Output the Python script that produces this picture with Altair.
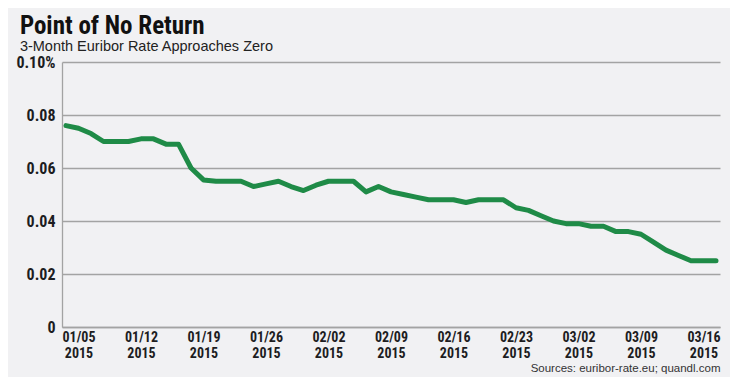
import altair as alt
import pandas as pd

# Business days shown on the chart
dates = [
    "01/02/2015",
    "01/05/2015", "01/06/2015", "01/07/2015", "01/08/2015", "01/09/2015",
    "01/12/2015", "01/13/2015", "01/14/2015", "01/15/2015", "01/16/2015",
    "01/19/2015", "01/20/2015", "01/21/2015", "01/22/2015", "01/23/2015",
    "01/26/2015", "01/27/2015", "01/28/2015", "01/29/2015", "01/30/2015",
    "02/02/2015", "02/03/2015", "02/04/2015", "02/05/2015", "02/06/2015",
    "02/09/2015", "02/10/2015", "02/11/2015", "02/12/2015", "02/13/2015",
    "02/16/2015", "02/17/2015", "02/18/2015", "02/19/2015", "02/20/2015",
    "02/23/2015", "02/24/2015", "02/25/2015", "02/26/2015", "02/27/2015",
    "03/02/2015", "03/03/2015", "03/04/2015", "03/05/2015", "03/06/2015",
    "03/09/2015", "03/10/2015", "03/11/2015", "03/12/2015", "03/13/2015",
    "03/16/2015", "03/17/2015",
]

# 3-month Euribor rate (%)
rates = [
    0.076,
    0.075, 0.073, 0.070, 0.070, 0.070,
    0.071, 0.071, 0.069, 0.069, 0.060,
    0.0555, 0.055, 0.055, 0.055, 0.053,
    0.054, 0.055, 0.053, 0.0515, 0.0535,
    0.055, 0.055, 0.055, 0.051, 0.053,
    0.051, 0.050, 0.049, 0.048, 0.048,
    0.048, 0.047, 0.048, 0.048, 0.048,
    0.045, 0.044, 0.042, 0.040, 0.039,
    0.039, 0.038, 0.038, 0.036, 0.036,
    0.035, 0.032, 0.029, 0.027, 0.025,
    0.025, 0.025,
]

tick_dates = ["01/05/2015", "01/12/2015", "01/19/2015", "01/26/2015",
              "02/02/2015", "02/09/2015", "02/16/2015", "02/23/2015",
              "03/02/2015", "03/09/2015", "03/16/2015"]
y_ticks = [0, 0.02, 0.04, 0.06, 0.08, 0.10]

title_text = "Point of No Return"
subtitle_text = "3-Month Euribor Rate Approaches Zero"
source_text = "Sources: euribor-rate.eu; quandl.com"

df = pd.DataFrame({"date": dates, "rate": rates})

NARROW = "Liberation Sans Narrow, Arial Narrow, Roboto Condensed, Liberation Sans, sans-serif"
REG = "Liberation Sans, Arial, Helvetica, sans-serif"
TXT = "#1d1d1f"
GRID = "#a3a3a3"

chart = alt.Chart(df).mark_line(
    color="#1f8b47", strokeWidth=5, strokeJoin="round", strokeCap="round"
).encode(
    x=alt.X(
        "date:O",
        sort=dates,
        scale=alt.Scale(type="point", padding=0.32),
        axis=alt.Axis(
            values=tick_dates,
            labelExpr="[slice(datum.value, 0, 5), slice(datum.value, 6)]",
            labelAngle=0,
            labelAlign="center",
            labelFont=NARROW,
            labelFontSize=14,
            labelFontWeight="bold",
            labelColor=TXT,
            labelLineHeight=16,
            labelPadding=3,
            ticks=False,
            grid=False,
            domainColor=GRID,
            domainWidth=1.3,
            title=source_text,
            titleAnchor="end",
            titleFont=REG,
            titleFontSize=11.5,
            titleFontWeight="normal",
            titleColor="#333333",
            titlePadding=2,
        ),
    ),
    y=alt.Y(
        "rate:Q",
        scale=alt.Scale(domain=[0, 0.1], nice=False),
        axis=alt.Axis(
            values=y_ticks,
            labelExpr="datum.value >= 0.099 ? '0.10%' : (datum.value == 0 ? '0' : format(datum.value, '.2f'))",
            labelFont=NARROW,
            labelFontSize=16,
            labelFontWeight="bold",
            labelColor=TXT,
            labelPadding=7,
            ticks=False,
            grid=True,
            gridColor=GRID,
            gridWidth=1.3,
            domainColor=GRID,
            domainWidth=1.3,
            title=None,
        ),
    ),
).properties(
    width=658,
    height=265,
    autosize="none",
    padding={"left": 54, "top": 54, "right": 10, "bottom": 50},
    background="#f1f1f3",
    title=alt.TitleParams(
        text=title_text,
        subtitle=subtitle_text,
        anchor="start",
        dx=4,
        offset=1,
        font=NARROW,
        fontSize=25,
        fontWeight="bold",
        color="#111111",
        subtitleFont=REG,
        subtitleFontSize=14.5,
        subtitleColor="#222222",
        subtitlePadding=1,
    ),
).configure_view(stroke=None)

chart.save("out.html", embed_options={"renderer": "svg", "actions": False})
